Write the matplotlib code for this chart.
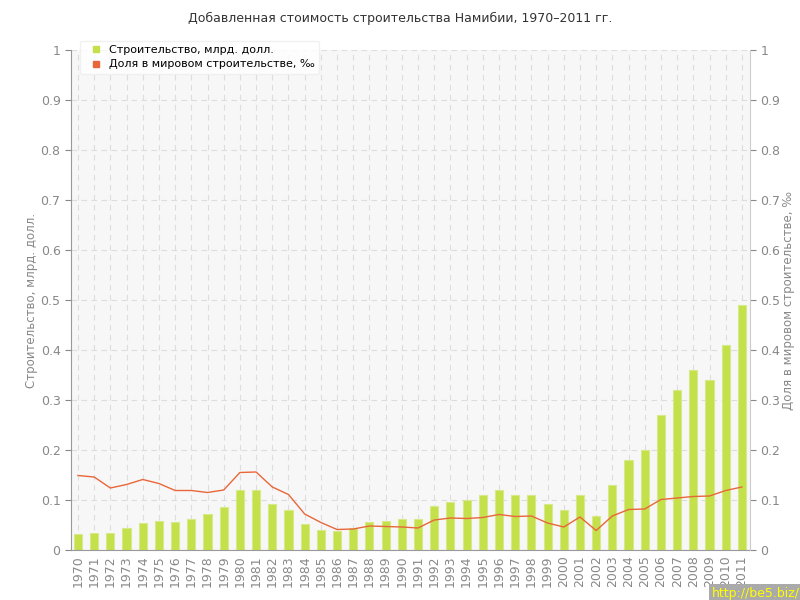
import matplotlib
matplotlib.use("Agg")
import matplotlib.pyplot as plt
from matplotlib.lines import Line2D

years = list(range(1970, 2012))
construction = [0.032, 0.035, 0.035, 0.045, 0.054, 0.058, 0.056, 0.062, 0.072, 0.086,
                0.12, 0.12, 0.093, 0.081, 0.053, 0.041, 0.039, 0.044, 0.057, 0.059,
                0.063, 0.062, 0.088, 0.097, 0.1, 0.11, 0.12, 0.11, 0.11, 0.092,
                0.08, 0.11, 0.069, 0.13, 0.18, 0.2, 0.27, 0.32, 0.36, 0.34,
                0.41, 0.49]
share = [0.149, 0.146, 0.124, 0.131, 0.141, 0.133, 0.119, 0.119, 0.115, 0.12,
         0.155, 0.156, 0.126, 0.111, 0.072, 0.055, 0.041, 0.042, 0.048, 0.047,
         0.046, 0.044, 0.06, 0.064, 0.063, 0.065, 0.071, 0.067, 0.068, 0.054,
         0.046, 0.066, 0.039, 0.068, 0.081, 0.082, 0.101, 0.104, 0.107, 0.108,
         0.119, 0.126]

title = "Добавленная стоимость строительства Намибии, 1970–2011 гг."
left_label = "Строительство, млрд. долл."
right_label = "Доля в мировом строительстве, ‰"

grey = "#888888"
bar_color = "#c4e04a"
line_color = "#e8673a"

fig = plt.figure(figsize=(8, 6), dpi=100)
ax = fig.add_axes([71 / 800, 50 / 600, (750 - 71) / 800, 500 / 600])
ax.set_facecolor("#f7f7f7")

ax.bar(years, construction, width=0.5, color=bar_color, edgecolor="#d6ea8a",
       linewidth=0.8, zorder=2)

ax2 = ax.twinx()
ax2.plot(years, share, color=line_color, linewidth=1.0, zorder=3)

for a in (ax, ax2):
    a.set_ylim(0, 1)
    a.set_xlim(1969.57, 2011.5)
    a.set_yticks([i / 10 for i in range(11)])
    a.set_yticklabels(["0"] + ["%.1f" % (i / 10) for i in range(1, 10)] + ["1"])
    a.tick_params(colors=grey, labelsize=9, length=4, width=0.8)
    for s in a.spines.values():
        s.set_visible(False)

ax.spines["left"].set_visible(True)
ax.spines["left"].set_color("#999999")
ax.spines["bottom"].set_visible(True)
ax.spines["bottom"].set_color("#999999")
ax2.spines["right"].set_visible(True)
ax2.spines["right"].set_color("#cccccc")

ax.set_xticks(years)
ax.set_xticklabels([str(y) for y in years], rotation=90, fontsize=9, color=grey)
ax.tick_params(axis="x", length=0, pad=4)
ax.grid(True, color="#dddddd", linestyle=(0, (5, 4)), linewidth=0.8, zorder=1)
ax.set_axisbelow(True)

ax.set_ylabel(left_label, color=grey, fontsize=8.5, labelpad=2)
ax2.set_ylabel(right_label, color=grey, fontsize=8.5, labelpad=1)

fig.text(0.5, 1 - 18 / 600, title, ha="center", va="center", fontsize=9, color="#333333")

handles = [Line2D([], [], marker="s", linestyle="", color=bar_color, markersize=5),
           Line2D([], [], marker="s", linestyle="", color=line_color, markersize=5)]
leg = ax2.legend(handles, [left_label, right_label], loc="upper left",
                 bbox_to_anchor=(0.005, 1.03), fontsize=8, frameon=True,
                 handletextpad=0.2, borderpad=0.4, labelspacing=0.4)
leg.get_frame().set_facecolor("white")
leg.get_frame().set_edgecolor("#eeeeee")

fig.text(1.0, 0.0, "http://be5.biz/", ha="right", va="bottom", fontsize=9,
         color="#ffff00", bbox=dict(facecolor="#aaaaaa", edgecolor="none", pad=2))

fig.savefig("out.png", dpi=100)
